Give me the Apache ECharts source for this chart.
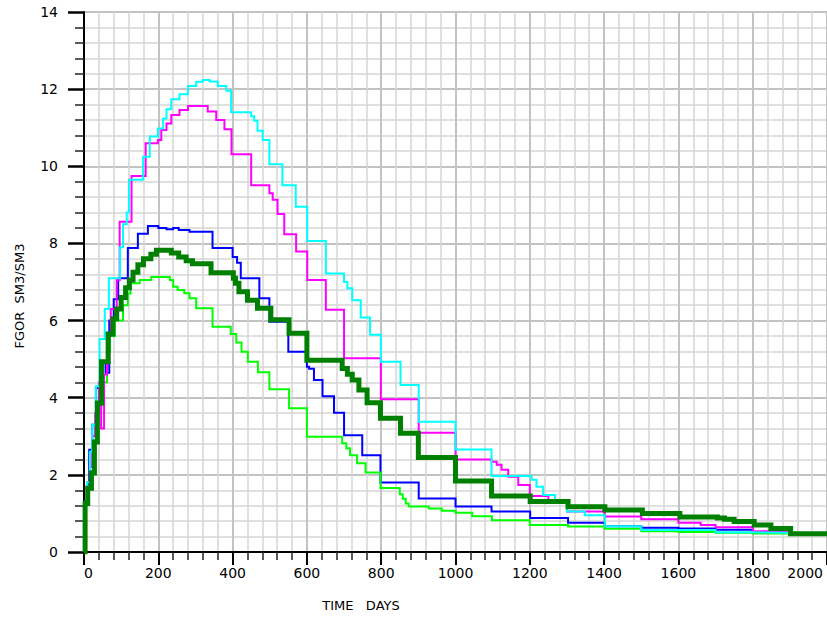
<!DOCTYPE html>
<html>
<head>
<meta charset="utf-8">
<script src="https://cdn.jsdelivr.net/npm/echarts@6/dist/echarts.min.js"></script>
<style>
html,body{margin:0;padding:0;background:#fff;}
#chart{width:827px;height:617px;}
</style>
</head>
<body>
<div id="chart"></div>
<script>
// ---- data: [time (days), FGOR (sm3/sm3)] step values ----
var xTicks = [0, 200, 400, 600, 800, 1000, 1200, 1400, 1600, 1800, 2000];
var yTicks = [0, 2, 4, 6, 8, 10, 12, 14];

var blueCase = [[0,0],[3,1.3],[8,1.75],[14,2.65],[22,3.3],[32,4.25],[45,4.9],[58,4.65],[68,6.0],[80,6.55],[92,7.1],[118,7.88],[145,8.25],[172,8.45],[200,8.4],[222,8.37],[240,8.4],[255,8.35],[284,8.3],[346,7.88],[400,7.65],[412,7.5],[422,7.1],[472,6.58],[499,5.97],[550,5.19],[600,4.8],[606,4.75],[619,4.46],[642,4.04],[673,3.61],[700,3.03],[749,2.51],[798,1.8],[901,1.39],[1000,1.18],[1097,1.05],[1201,0.88],[1303,0.76],[1402,0.67],[1500,0.63],[1600,0.61],[1700,0.58],[1800,0.52],[1900,0.52]];

var limeCase = [[0,0],[3,1.3],[10,1.7],[20,2.1],[30,2.9],[38,3.8],[48,4.4],[62,5.2],[70,5.6],[83,6.0],[105,6.4],[118,6.7],[125,6.97],[150,7.05],[181,7.13],[231,7.05],[240,6.88],[252,6.79],[270,6.71],[284,6.58],[302,6.32],[346,5.84],[395,5.65],[410,5.43],[424,5.19],[441,4.93],[468,4.66],[499,4.22],[552,3.73],[600,2.99],[695,2.82],[706,2.69],[716,2.51],[735,2.3],[758,2.06],[798,1.66],[850,1.5],[858,1.38],[866,1.26],[874,1.18],[928,1.13],[963,1.07],[1000,1.02],[1045,0.93],[1098,0.82],[1200,0.7],[1303,0.66],[1402,0.6],[1500,0.54],[1600,0.52],[1700,0.5],[1800,0.48],[1900,0.48]];

var magentaCase = [[0,0],[3,1.3],[8,1.8],[16,2.2],[22,3.0],[30,3.6],[40,4.4],[46,3.2],[54,4.6],[62,5.6],[72,6.3],[88,7.05],[96,8.56],[128,9.75],[166,10.6],[199,10.68],[208,10.94],[222,11.11],[235,11.33],[257,11.46],[280,11.56],[333,11.42],[356,11.2],[378,10.96],[397,10.31],[450,9.51],[499,9.3],[508,9.13],[521,8.76],[539,8.24],[571,7.79],[601,7.05],[651,6.28],[700,5.02],[799,3.96],[901,3.09],[1000,2.4],[1097,2.34],[1111,2.26],[1124,2.13],[1142,1.95],[1169,1.74],[1200,1.45],[1250,1.32],[1300,1.05],[1402,0.92],[1500,0.85],[1600,0.76],[1660,0.7],[1700,0.64],[1800,0.54],[1900,0.54]];

var cyanCase = [[0,0],[3,1.3],[8,1.8],[16,2.6],[22,3.3],[32,4.3],[42,5.52],[56,6.3],[67,7.1],[97,7.9],[105,8.5],[115,8.8],[121,9.65],[159,10.25],[177,10.77],[199,10.98],[213,11.24],[222,11.48],[235,11.74],[257,11.87],[280,12.08],[302,12.19],[320,12.24],[338,12.2],[360,12.08],[383,11.96],[396,11.4],[450,11.3],[458,11.18],[467,10.92],[481,10.68],[499,10.05],[534,9.51],[570,8.95],[601,8.06],[651,7.22],[700,7.0],[709,6.84],[722,6.53],[745,6.08],[770,5.63],[799,4.93],[852,4.33],[901,3.38],[1000,2.66],[1097,1.97],[1205,1.87],[1218,1.69],[1236,1.48],[1268,1.33],[1300,1.05],[1348,0.95],[1402,0.67],[1500,0.57],[1700,0.51],[1800,0.5],[1900,0.5]];

var greenCase = [[0,0],[3,1.26],[10,1.65],[20,2.05],[28,2.85],[36,3.86],[47,4.93],[65,5.65],[78,6.05],[88,6.3],[100,6.6],[112,6.85],[122,7.05],[132,7.25],[145,7.45],[160,7.6],[180,7.72],[195,7.82],[235,7.75],[255,7.65],[275,7.55],[292,7.47],[342,7.24],[402,7.1],[408,6.97],[417,6.75],[440,6.53],[467,6.32],[503,6.02],[552,5.67],[600,4.97],[695,4.76],[709,4.61],[722,4.46],[740,4.2],[762,3.87],[798,3.47],[852,3.08],[900,2.45],[1000,1.84],[1097,1.45],[1201,1.31],[1303,1.17],[1402,1.09],[1503,1.0],[1604,0.91],[1705,0.88],[1724,0.85],[1750,0.79],[1804,0.7],[1849,0.61],[1902,0.47],[2000,0.47]];

var FONT = 'DejaVu Sans';
var chart = echarts.init(document.getElementById('chart'), null, {renderer: 'svg', width: 827, height: 617});

function stepSeries(name, data, color, width) {
  return {
    name: name, type: 'line', step: 'end', data: data,
    showSymbol: false, symbol: 'none', animation: false, clip: true,
    lineStyle: {color: color, width: width, join: 'miter', cap: 'butt'},
    itemStyle: {color: color}
  };
}

chart.setOption({
  backgroundColor: '#ffffff',
  animation: false,
  grid: {left: 84, top: 12, width: 746, height: 540, show: false},
  xAxis: {
    type: 'value', min: xTicks[0], max: xTicks[xTicks.length - 1], interval: 200,
    axisLine: {show: true, onZero: false, lineStyle: {color: '#000', width: 2}},
    axisTick: {show: true, length: 13, lineStyle: {color: '#000', width: 2}},
    minorTick: {show: true, splitNumber: 5, length: 8, lineStyle: {color: '#222', width: 1.5}},
    splitLine: {show: true, lineStyle: {color: '#c2c2c2', width: 2}},
    minorSplitLine: {show: true, lineStyle: {color: '#d6d6d6', width: 1.5}},
    axisLabel: {
      fontFamily: FONT, fontSize: 14, color: '#000', margin: 14,
      alignMinLabel: 'left', alignMaxLabel: 'right',
      formatter: function (v) { return v === 2000 ? '{r|' + v + '}' : String(v); },
      rich: {r: {fontFamily: FONT, fontSize: 14, color: '#000', padding: [0, 4, 0, 0]}}
    }
  },
  yAxis: {
    type: 'value', min: yTicks[0], max: yTicks[yTicks.length - 1], interval: 2,
    axisLine: {show: true, onZero: false, lineStyle: {color: '#000', width: 2}},
    axisTick: {show: true, length: 16, lineStyle: {color: '#000', width: 2.5}},
    minorTick: {show: true, splitNumber: 5, length: 9, lineStyle: {color: '#222', width: 1.5}},
    splitLine: {show: true, lineStyle: {color: '#c2c2c2', width: 2}},
    minorSplitLine: {show: true, lineStyle: {color: '#d6d6d6', width: 1.5}},
    axisLabel: {fontFamily: FONT, fontSize: 14, color: '#000', margin: 26}
  },
  graphic: [
    {type: 'text', x: 361, y: 605, silent: true,
     style: {text: 'TIME   DAYS', fill: '#000', font: '13px "DejaVu Sans"', textAlign: 'center', textVerticalAlign: 'middle', align: 'center', verticalAlign: 'middle'}},
    {type: 'text', x: 19, y: 296, rotation: Math.PI / 2, silent: true,
     style: {text: 'FGOR  SM3/SM3', fill: '#000', font: '13px "DejaVu Sans"', textAlign: 'center', textVerticalAlign: 'middle', align: 'center', verticalAlign: 'middle'}}
  ],
  series: [
    stepSeries('Case blue', blueCase, '#0000ff', 2),
    stepSeries('Case lime', limeCase, '#00ff00', 2),
    stepSeries('Case magenta', magentaCase, '#ff00ff', 2),
    stepSeries('Case cyan', cyanCase, '#00ffff', 2),
    stepSeries('Case green', greenCase, '#008000', 5)
  ]
});
</script>
</body>
</html>
